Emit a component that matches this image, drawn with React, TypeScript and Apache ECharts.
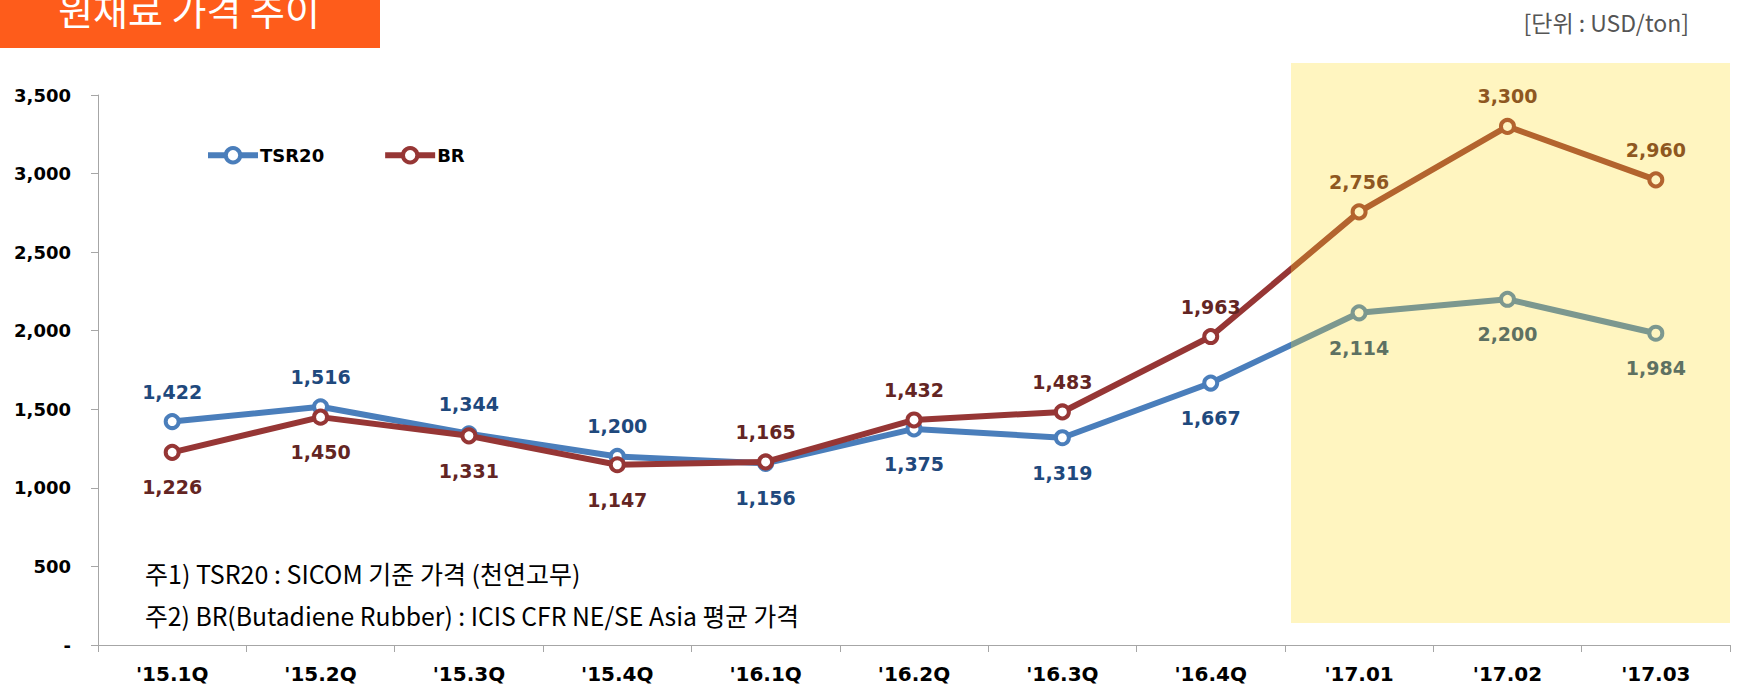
import React, { useEffect, useRef } from "react";
import * as echarts from "echarts";

const categories = ["'15.1Q", "'15.2Q", "'15.3Q", "'15.4Q", "'16.1Q", "'16.2Q", "'16.3Q", "'16.4Q", "'17.01", "'17.02", "'17.03"];
const tsr20 = [1422, 1516, 1344, 1200, 1156, 1375, 1319, 1667, 2114, 2200, 1984];
const br = [1226, 1450, 1331, 1147, 1165, 1432, 1483, 1963, 2756, 3300, 2960];
const seriesNames = ["TSR20", "BR"];
const titleText = "원재료 가격 추이";
const unitText = "[단위 : USD/ton]";
const notes = ["주1) TSR20 : SICOM 기준 가격 (천연고무)", "주2) BR(Butadiene Rubber) : ICIS CFR NE/SE Asia 평균 가격"];

const BLUE = "#4a7ebb";
const RED = "#963635";
const BLUE_LABEL = "#1f497d";
const RED_LABEL = "#632523";
const FONT = "DejaVu Sans";
const KFONT = "'Noto Sans CJK KR', 'Noto Sans', sans-serif";

const fmt = (v: number) => (v === 0 ? "-" : v.toLocaleString("en-US"));

function buildData(vals: number[], other: number[], color: string) {
  return vals.map((v, i) => {
    const above = v >= other[i];
    return {
      value: v,
      label: {
        position: above ? "top" : "bottom",
        distance: above ? 12 : 17,
        color,
      },
    };
  });
}

export default function App() {
  const ref = useRef<HTMLDivElement>(null);
  useEffect(() => {
    document.body.style.margin = "0";
    const chart = echarts.init(ref.current!, null, { renderer: "svg" });
    const labelCommon = {
      show: true,
      fontFamily: FONT,
      fontWeight: "bold",
      fontSize: 19,
      formatter: (p: any) => fmt(p.value),
    };
    chart.setOption({
      animation: false,
      backgroundColor: "#ffffff",
      grid: { left: 98, right: 11, top: 95, bottom: 41, containLabel: false },
      legend: {
        left: 200,
        top: 141,
        itemWidth: 50,
        itemHeight: 18,
        itemGap: 58,
        data: seriesNames,
        lineStyle: { width: 6 },
        itemStyle: { borderWidth: 4 },
        textStyle: { fontFamily: FONT, fontWeight: "bold", fontSize: 18, color: "#000", padding: [0, 0, 0, -3] },
      },
      xAxis: {
        type: "category",
        data: categories,
        boundaryGap: true,
        axisLine: { show: true, lineStyle: { color: "#a6a6a6", width: 1 } },
        axisTick: { show: true, length: 7, lineStyle: { color: "#a6a6a6" } },
        axisLabel: { fontFamily: FONT, fontWeight: "bold", fontSize: 20, color: "#000", margin: 19 },
        splitLine: { show: false },
      },
      yAxis: {
        type: "value",
        min: 0,
        max: 3500,
        interval: 500,
        axisLine: { show: true, lineStyle: { color: "#a6a6a6", width: 1 } },
        axisTick: { show: true, length: 7, lineStyle: { color: "#a6a6a6" } },
        axisLabel: { fontFamily: FONT, fontWeight: "bold", fontSize: 18, color: "#000", margin: 27, formatter: fmt },
        splitLine: { show: false },
      },
      series: [
        {
          name: seriesNames[0],
          type: "line",
          data: buildData(tsr20, br, BLUE_LABEL),
          symbol: "circle",
          symbolSize: 13,
          itemStyle: { color: "#ffffff", borderColor: BLUE, borderWidth: 4 },
          lineStyle: { color: BLUE, width: 6 },
          label: labelCommon,
          z: 2,
        },
        {
          name: seriesNames[1],
          type: "line",
          data: buildData(br, tsr20, RED_LABEL),
          symbol: "circle",
          symbolSize: 13,
          itemStyle: { color: "#ffffff", borderColor: RED, borderWidth: 4 },
          lineStyle: { color: RED, width: 6 },
          label: labelCommon,
          z: 3,
        },
      ],
      graphic: [
        { type: "rect", shape: { x: 0, y: 0, width: 380, height: 48 }, style: { fill: "#fe5c1b" }, z: 10 },
        {
          type: "text",
          x: 189,
          y: 27,
          style: { text: titleText, fill: "#ffffff", font: `38px ${KFONT}`, textAlign: "center", textVerticalAlign: "bottom" },
          z: 11,
        },
        {
          type: "text",
          x: 1689,
          y: 22,
          style: { text: unitText, fill: "#555555", font: `23px ${KFONT}`, textAlign: "right", textVerticalAlign: "middle" },
          z: 11,
        },
        {
          type: "text",
          x: 145,
          y: 573,
          scaleX: 1.0,
          style: { text: notes[0], fill: "#000", font: `25px ${KFONT}`, textAlign: "left", textVerticalAlign: "middle" },
          z: 11,
        },
        {
          type: "text",
          x: 145,
          y: 615,
          scaleX: 0.99,
          style: { text: notes[1], fill: "#000", font: `25px ${KFONT}`, textAlign: "left", textVerticalAlign: "middle" },
          z: 11,
        },
        {
          type: "rect",
          shape: { x: 1291, y: 63, width: 439, height: 560 },
          style: { fill: "rgba(255, 220, 30, 0.28)" },
          z: 100,
          silent: true,
        },
      ],
    });
    return () => chart.dispose();
  }, []);
  return <div ref={ref} style={{ width: 1741, height: 686 }} />;
}
